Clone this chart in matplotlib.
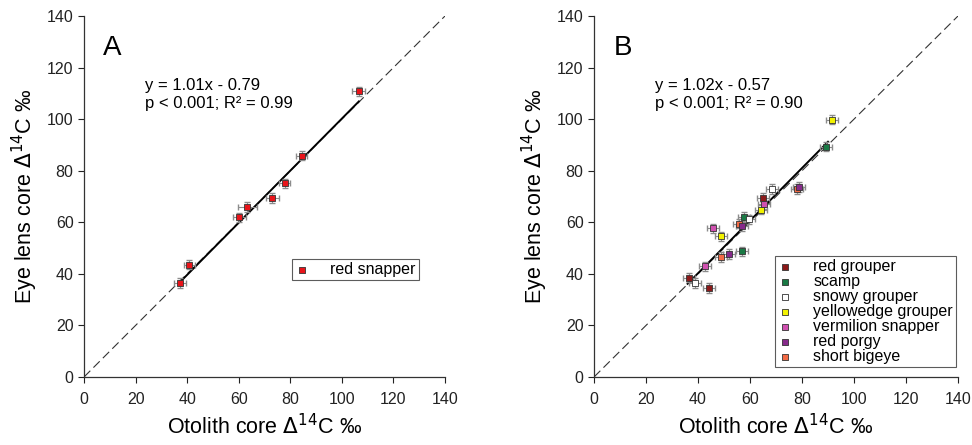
import matplotlib
matplotlib.use("Agg")
import matplotlib.pyplot as plt
import numpy as np

plt.rcParams['font.family'] = ['Liberation Sans', 'DejaVu Sans']

# Panel A data (red snapper)
a_otolith = [37.2, 40.9, 60.3, 63.4, 73.0, 77.8, 84.4, 106.6]
a_lens = [36.4, 43.6, 61.9, 65.9, 69.4, 75.1, 85.9, 110.8]
a_xerr = [2.2, 2.2, 2.5, 3.5, 2.5, 2.2, 2.2, 2.5]
a_yerr = [1.8, 1.8, 1.8, 1.8, 1.8, 1.8, 1.8, 1.8]

# Panel B data
species = ["red grouper", "scamp", "snowy grouper", "yellowedge grouper",
           "vermilion snapper", "red porgy", "short bigeye"]
colors = ["#8b1a1a", "#1a7a45", "#ffffff", "#f2f200", "#d050b0", "#862a8a", "#f26a45"]
draw_order = [4, 4, 4, 4, 4, 6, 5]
b_otolith = {
    "red grouper": [36.7, 44.2, 64.9],
    "scamp": [89.2, 57.8, 56.8],
    "snowy grouper": [38.7, 68.3, 59.5],
    "yellowedge grouper": [48.7, 64.4, 91.7],
    "vermilion snapper": [45.8, 42.6, 65.3],
    "red porgy": [51.9, 56.8, 78.8],
    "short bigeye": [48.7, 55.9, 78.2],
}
b_lens = {
    "red grouper": [38.5, 34.5, 69.5],
    "scamp": [89.3, 62.1, 48.8],
    "snowy grouper": [36.5, 72.9, 61.2],
    "yellowedge grouper": [54.6, 64.9, 99.8],
    "vermilion snapper": [57.6, 42.9, 66.9],
    "red porgy": [47.7, 58.6, 73.7],
    "short bigeye": [46.5, 59.4, 72.9],
}

fit_a = (1.01, -0.79, 37.2, 106.6)
fit_b = (1.02, -0.57, 36.0, 90.0)
ticks = [0, 20, 40, 60, 80, 100, 120, 140]

fig = plt.figure(figsize=(9.72, 4.45), dpi=100)
axA = fig.add_axes([84/972, 1-377/445, (445-84)/972, (377-16)/445])
axB = fig.add_axes([594/972, 1-377/445, (958-594)/972, (377-16)/445])

def style(ax):
    ax.set_xlim(0, 140)
    ax.set_ylim(0, 140)
    ax.set_xticks(ticks)
    ax.set_yticks(ticks)
    for s in ["top", "right"]:
        ax.spines[s].set_visible(False)
    for s in ["left", "bottom"]:
        ax.spines[s].set_color("#333333")
        ax.spines[s].set_linewidth(0.9)
    ax.tick_params(direction="out", length=4, width=0.8, labelsize=11.5, colors="#222222")
    ax.tick_params(axis="x", pad=7)
    ax.set_xlabel("Otolith core $\\Delta^{14}$C ‰", fontsize=15.5, labelpad=5)
    ax.set_ylabel("Eye lens core $\\Delta^{14}$C ‰", fontsize=15.5, labelpad=5)
    ax.plot([0, 140], [0, 140], color="#333333", lw=0.8, ls=(0, (8, 4)), zorder=1)

style(axA)
style(axB)

# Panel A
m, c, x0, x1 = fit_a
xs = np.array([x0, x1])
axA.plot(xs, m*xs + c, color="black", lw=1.4, zorder=2)
axA.errorbar(a_otolith, a_lens, xerr=a_xerr, yerr=a_yerr, fmt="none",
             ecolor="#8c8c8c", elinewidth=0.8, capsize=2, zorder=3)
axA.scatter(a_otolith, a_lens, marker="s", s=16, c="#e8141a", edgecolors="#333333",
            linewidths=0.6, zorder=4, label="red snapper")
axA.text(7.5, 124.8, "A", fontsize=20, va="baseline")
axA.text(23.5, 113.2, "y = 1.01x - 0.79", fontsize=12, va="center")
axA.text(23.5, 106.2, "p < 0.001; R² = 0.99", fontsize=12, va="center")
legA = axA.legend(loc="upper left", bbox_to_anchor=(0.576, 0.327), frameon=True,
                  fancybox=False, edgecolor="#333333", fontsize=11.5, handletextpad=1.4,
                  handlelength=0.8, markerscale=1.0, borderpad=0.2, borderaxespad=0)
legA.get_frame().set_linewidth(0.8)

# Panel B
m, c, x0, x1 = fit_b
xs = np.array([x0, x1])
axB.plot(xs, m*xs + c, color="black", lw=1.4, zorder=2)
for sp, col, zo in zip(species, colors, draw_order):
    ox = b_otolith[sp]
    ly = b_lens[sp]
    axB.errorbar(ox, ly, xerr=2.3, yerr=1.8, fmt="none", ecolor="#8c8c8c",
                 elinewidth=0.8, capsize=2, zorder=3)
    axB.scatter(ox, ly, marker="s", s=16, c=col, edgecolors="#333333",
                linewidths=0.6, zorder=zo, label=sp)
axB.text(7.5, 124.8, "B", fontsize=20, va="baseline")
axB.text(23.5, 113.2, "y = 1.02x - 0.57", fontsize=12, va="center")
axB.text(23.5, 106.2, "p < 0.001; R² = 0.90", fontsize=12, va="center")
legB = axB.legend(loc="lower right", bbox_to_anchor=(0.995, 0.027), frameon=True,
                  fancybox=False, edgecolor="#333333", fontsize=11.5, handletextpad=1.4,
                  handlelength=0.8, markerscale=1.0, borderpad=0.2, labelspacing=0.0,
                  borderaxespad=0)
legB.get_frame().set_linewidth(0.8)

fig.savefig("out.png", dpi=100)
